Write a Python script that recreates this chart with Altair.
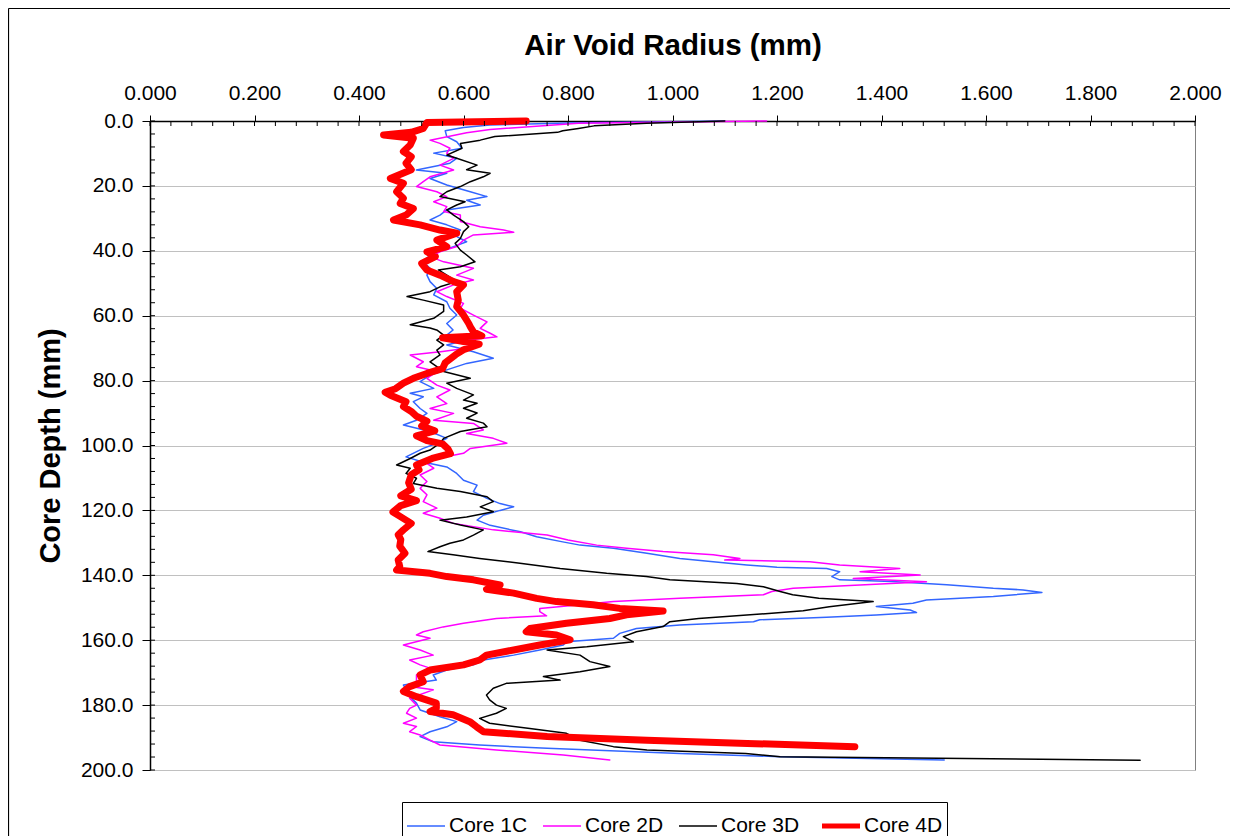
import altair as alt
import pandas as pd

series_names = ["Core 1C", "Core 2D", "Core 3D", "Core 4D"]
series_colors = ["#3366FF", "#FF00FF", "#000000", "#FF0000"]

# (core depth mm, air void radius mm)
core_1c = [
    (0, 1.10), (0.6, 0.80), (1.2, 0.65), (2, 0.60), (3, 0.565), (4.8, 0.568), (6.4, 0.587),
    (8.4, 0.597), (9.9, 0.543), (11.5, 0.587), (13, 0.574), (15.1, 0.51), (16.1, 0.568),
    (17.7, 0.536), (19.7, 0.568), (21.8, 0.613), (23.3, 0.645), (24.4, 0.606), (25.9, 0.632),
    (27.4, 0.568), (29, 0.555), (30.5, 0.536), (32, 0.568), (33.6, 0.594), (35.1, 0.581),
    (37.2, 0.606), (38.7, 0.581), (41.3, 0.536), (43.4, 0.523), (45.4, 0.536), (47.5, 0.53),
    (49.5, 0.536), (51.6, 0.549), (53.6, 0.543), (55.7, 0.568), (57.7, 0.574), (59.8, 0.587),
    (62.4, 0.568), (64.4, 0.58), (66, 0.568), (67.5, 0.606), (69, 0.568), (71.1, 0.619),
    (73.1, 0.657), (74.7, 0.606), (76.7, 0.568), (78.3, 0.536), (80.3, 0.517), (82.4, 0.543),
    (83.9, 0.498), (85, 0.523), (86.5, 0.504), (88.6, 0.517), (90.1, 0.53), (92.2, 0.51),
    (93.7, 0.485), (95.7, 0.536), (97.8, 0.568), (99.3, 0.549), (100.9, 0.523), (103.5, 0.49),
    (105, 0.52), (106.6, 0.568), (108.6, 0.587), (110.7, 0.60), (112.2, 0.626), (114.2, 0.619),
    (116.3, 0.645), (117.9, 0.670), (118.9, 0.696), (120, 0.67), (121.5, 0.638), (123, 0.626),
    (124.6, 0.651), (126.6, 0.709), (128.1, 0.74), (129.7, 0.79), (130.7, 0.823), (131.7, 0.887),
    (133.2, 0.951), (134.8, 1.014), (135.8, 1.078), (136.8, 1.142), (137.5, 1.20), (137.9, 1.295),
    (138.9, 1.32), (140.4, 1.305), (141.4, 1.32), (141.9, 1.42), (142.9, 1.525), (144, 1.614),
    (144.5, 1.671), (145.3, 1.707), (146.5, 1.614), (147.6, 1.486), (148.6, 1.46), (149.6, 1.39),
    (150.7, 1.455), (151.5, 1.467), (152.2, 1.39), (152.9, 1.295), (153.7, 1.167), (154.3, 1.155),
    (155.3, 1.014), (156.4, 0.931), (157.9, 0.899), (159.4, 0.887), (160.5, 0.797), (161.5, 0.791),
    (163, 0.746), (164.6, 0.696), (166.1, 0.638), (167.6, 0.619), (169.2, 0.568), (170.7, 0.542),
    (172.3, 0.548), (173.8, 0.485), (175.3, 0.491), (177.4, 0.497), (179.4, 0.51), (181.5, 0.517),
    (183.6, 0.555), (185.1, 0.587), (186.7, 0.568), (188.2, 0.536), (189.7, 0.517), (191.3, 0.542),
    (192.3, 0.631), (193.3, 0.76), (194.9, 1.014), (195.9, 1.206), (196.9, 1.52),
]

core_2d = [
    (0, 1.18), (0.7, 0.82), (2.6, 0.651), (3.6, 0.606), (5.9, 0.536), (6.9, 0.555), (8.4, 0.574),
    (9.9, 0.568), (11.5, 0.581), (13.6, 0.555), (15.1, 0.581), (17.2, 0.536), (18.7, 0.523),
    (20.2, 0.51), (21.8, 0.549), (23.3, 0.568), (24.9, 0.543), (26.4, 0.568), (27.9, 0.562),
    (29, 0.594), (31, 0.594), (32.6, 0.632), (33.6, 0.677), (34.3, 0.696), (35.1, 0.619),
    (36.7, 0.60), (38.7, 0.587), (40.3, 0.555), (41.8, 0.536), (43.4, 0.562), (45.4, 0.619),
    (47.5, 0.587), (49, 0.619), (50.5, 0.581), (52.6, 0.549), (54.1, 0.568), (56.2, 0.60),
    (57.7, 0.594), (59.8, 0.619), (61.9, 0.645), (63.9, 0.632), (65.4, 0.651), (66.5, 0.664),
    (68, 0.581), (69.6, 0.626), (71, 0.56), (72.1, 0.498), (74.2, 0.523), (75.7, 0.51),
    (77.2, 0.549), (79.3, 0.53), (81.4, 0.549), (82.9, 0.574), (85, 0.549), (87.1, 0.568),
    (88.6, 0.536), (90.1, 0.581), (92.2, 0.543), (93.2, 0.619), (95.2, 0.638), (96.3, 0.606),
    (97.8, 0.657), (99.3, 0.683), (100.9, 0.613), (102.4, 0.60), (104, 0.549), (105.5, 0.53),
    (107, 0.543), (109.1, 0.517), (111.1, 0.53), (113.2, 0.517), (115.2, 0.53), (117.3, 0.523),
    (119.3, 0.549), (120.9, 0.523), (122.4, 0.555), (124, 0.581), (126, 0.657), (127.6, 0.76),
    (129.1, 0.80), (130.7, 0.855), (131.7, 0.912), (132.7, 0.982), (133.7, 1.078), (134.8, 1.129),
    (135.3, 1.10), (135.8, 1.263), (136.8, 1.32), (137.9, 1.435), (138.9, 1.359), (139.9, 1.474),
    (141, 1.346), (142, 1.486), (143, 1.359), (144, 1.231), (145, 1.19), (146, 1.174),
    (147.1, 1.014), (148.1, 0.887), (149.1, 0.823), (150.2, 0.746), (151.2, 0.746), (152.5, 0.759),
    (153.3, 0.663), (154.8, 0.60), (155.9, 0.561), (157.4, 0.523), (158.4, 0.51), (159.4, 0.536),
    (161.5, 0.485), (163, 0.517), (164.6, 0.542), (166.1, 0.497), (167.6, 0.517), (168.6, 0.536),
    (170.7, 0.51), (172.8, 0.51), (174.3, 0.497), (175.3, 0.542), (177.9, 0.497), (180, 0.51),
    (181, 0.497), (182.5, 0.491), (184, 0.51), (185.6, 0.485), (186.6, 0.51), (188.2, 0.497),
    (189.2, 0.517), (190.8, 0.536), (192.3, 0.555), (193.8, 0.663), (195.4, 0.791), (196.9, 0.88),
]

core_3d = [
    (0, 1.10), (0.7, 0.95), (1.5, 0.85), (2.3, 0.82), (3, 0.79), (3.5, 0.78), (4.8, 0.66),
    (5.9, 0.632), (6.9, 0.594), (8.4, 0.597), (10.5, 0.568), (11.5, 0.587), (13.6, 0.626),
    (15, 0.606), (16.1, 0.651), (17.2, 0.638), (18.7, 0.613), (20.2, 0.594), (21.8, 0.568),
    (23.3, 0.555), (24.9, 0.603), (25.9, 0.587), (27.4, 0.568), (29, 0.581), (31, 0.60),
    (32.6, 0.61), (34.1, 0.60), (36.2, 0.594), (37.7, 0.584), (39.8, 0.594), (41.3, 0.606),
    (43.4, 0.622), (44.9, 0.594), (45.9, 0.552), (47.5, 0.568), (49.5, 0.587), (51.1, 0.555),
    (52.6, 0.536), (54.1, 0.492), (55.2, 0.523), (56.7, 0.562), (58.7, 0.562), (60.8, 0.543),
    (62.8, 0.498), (63.8, 0.536), (64.5, 0.55), (66, 0.562), (67.5, 0.549), (69, 0.562),
    (70.6, 0.549), (72.1, 0.555), (74.2, 0.536), (75.7, 0.549), (77.2, 0.562), (79.3, 0.613),
    (80.8, 0.568), (82.4, 0.587), (84.4, 0.619), (86, 0.60), (87, 0.626), (88.5, 0.60),
    (90, 0.626), (91.6, 0.606), (93.1, 0.638), (94.2, 0.645), (95.7, 0.594), (97.8, 0.562),
    (99.3, 0.555), (101.4, 0.536), (102.4, 0.517), (104, 0.498), (106, 0.472), (107, 0.498),
    (108.6, 0.49), (110.1, 0.51), (111.7, 0.504), (113.2, 0.549), (114.2, 0.594), (115.8, 0.645),
    (117.3, 0.657), (118.9, 0.632), (120.4, 0.657), (122, 0.606), (123, 0.555), (124.5, 0.594),
    (126, 0.638), (127.6, 0.619), (129.1, 0.60), (130.1, 0.574), (131.2, 0.555), (132.7, 0.532),
    (133.7, 0.58), (134.8, 0.631), (136.3, 0.708), (137.9, 0.785), (139.4, 0.874), (140.4, 0.95),
    (141.4, 0.995), (142.5, 1.123), (143.5, 1.174), (145, 1.206), (146, 1.23), (147.1, 1.28),
    (148.1, 1.384), (149.7, 1.30), (150.9, 1.25), (151.7, 1.19), (153.3, 1.05), (154.3, 0.995),
    (155.8, 0.982), (157.4, 0.931), (158.9, 0.906), (160.5, 0.925), (162, 0.836), (163, 0.76),
    (164.6, 0.823), (166.6, 0.842), (168.1, 0.88), (169.7, 0.823), (171.2, 0.753), (172.3, 0.785),
    (173.3, 0.682), (174.8, 0.657), (176.9, 0.644), (178.4, 0.65), (180, 0.663), (181, 0.682),
    (182.5, 0.663), (184.1, 0.631), (185.6, 0.65), (187.2, 0.727), (188.7, 0.797), (190.8, 0.823),
    (192.8, 0.887), (193.8, 0.951), (194.9, 1.14), (195.9, 1.206), (197, 1.895),
]

core_4d = [
    (0, 0.72), (0.5, 0.53), (2.3, 0.523), (3.5, 0.50), (4.3, 0.447), (5.3, 0.504), (7.4, 0.498),
    (9.4, 0.485), (11, 0.50), (13, 0.49), (15, 0.50), (17.7, 0.46), (19.2, 0.485), (21.8, 0.472),
    (23.8, 0.485), (25.4, 0.479), (27, 0.504), (29, 0.49), (30.5, 0.466), (32, 0.517),
    (33.6, 0.555), (34.6, 0.587), (36.7, 0.549), (38.7, 0.568), (40.3, 0.53), (41.8, 0.546),
    (43.9, 0.52), (45.9, 0.53), (47.5, 0.555), (49.5, 0.581), (50.5, 0.60), (52.6, 0.587),
    (55.2, 0.59), (57.2, 0.587), (59.8, 0.60), (62.4, 0.61), (63.4, 0.613), (65, 0.619),
    (66.2, 0.635), (66.8, 0.56), (68.8, 0.63), (70.5, 0.60), (72, 0.585), (74.5, 0.565),
    (76.3, 0.56), (77.8, 0.53), (79.3, 0.504), (80.8, 0.485), (82.5, 0.47), (83.6, 0.45),
    (84.5, 0.46), (86.5, 0.49), (88, 0.485), (89.5, 0.50), (91, 0.51), (92.5, 0.53), (94, 0.52),
    (95.5, 0.545), (97, 0.51), (98.5, 0.53), (99.5, 0.56), (101, 0.57), (102.5, 0.575),
    (104, 0.54), (106, 0.51), (107.5, 0.515), (109, 0.50), (111.5, 0.495), (113.5, 0.50),
    (115.5, 0.48), (117, 0.51), (118.5, 0.48), (120.5, 0.465), (122, 0.48), (124, 0.50),
    (126, 0.485), (127.5, 0.475), (129, 0.48), (131, 0.478), (133.2, 0.488), (135.3, 0.475),
    (137.3, 0.478), (138.4, 0.472), (139.4, 0.536), (140.4, 0.568), (141.4, 0.619), (143, 0.67),
    (144.3, 0.644), (145.5, 0.696), (147.1, 0.74), (148.1, 0.778), (149.1, 0.848), (150.2, 0.899),
    (151, 0.982), (152.2, 0.912), (153.3, 0.88), (154.8, 0.797), (156.4, 0.727), (157.4, 0.72),
    (158.4, 0.778), (159.9, 0.804), (161.5, 0.746), (163, 0.696), (164.6, 0.644), (166.1, 0.631),
    (167.6, 0.60), (169.2, 0.536), (170.7, 0.517), (172.8, 0.523), (174.3, 0.497), (175.8, 0.485),
    (177.4, 0.51), (179.4, 0.548), (181, 0.548), (182, 0.536), (183, 0.58), (185.1, 0.612),
    (186.7, 0.625), (188.2, 0.638), (189.7, 0.76), (190.8, 0.951), (191.8, 1.143), (192.8, 1.349),
]

x_ticks = [0.0, 0.2, 0.4, 0.6, 0.8, 1.0, 1.2, 1.4, 1.6, 1.8, 2.0]
y_ticks = [0, 20, 40, 60, 80, 100, 120, 140, 160, 180, 200]
x_minor = [round(0.04 * i, 2) for i in range(51)]
y_minor = [4 * i for i in range(51)]

rows = []
for name, pts in zip(series_names, [core_1c, core_2d, core_3d, core_4d]):
    for d, v in pts:
        rows.append({"series": name, "depth": d, "radius": v})
df = pd.DataFrame(rows)

FONT = "Liberation Sans"
xscale = alt.Scale(domain=[0, 2], nice=False, zero=False)
yscale = alt.Scale(domain=[0, 200], reverse=True, nice=False, zero=False)

x_axis = alt.Axis(
    orient="top", values=x_ticks, format=".3f", title="Air Void Radius (mm)", grid=False,
    domainColor="black", domainWidth=1.5, tickColor="black", tickSize=6, tickWidth=1,
    labelFontSize=21, labelFont=FONT, labelColor="black", labelPadding=16,
    labelBaseline="alphabetic", labelFlush=False,
    titleFont=FONT, titleFontSize=29.5, titleFontWeight="bold", titleColor="black",
    titleY=-66.5, titleBaseline="alphabetic",
)
y_axis = alt.Axis(
    values=y_ticks, format=".1f", title="Core Depth (mm)", grid=True, gridColor="#C0C0C0",
    gridWidth=1, domainColor="black", domainWidth=1.5, tickColor="black", tickSize=8,
    tickWidth=1, labelFontSize=21, labelFont=FONT, labelColor="black", labelPadding=9,
    labelFlush=False, titleFont=FONT, titleFontSize=29, titleFontWeight="bold",
    titleColor="black", titleX=-91, titleBaseline="alphabetic",
)

legend = alt.Legend(
    orient="none", legendX=252, legendY=681, direction="horizontal", columns=4, title=None,
    symbolType="stroke", symbolSize=1444,
    symbolStrokeWidth=alt.ExprRef("(datum.value === 'Core 4D' ? 5 : 1.5)"),
    labelFontSize=21, labelFont=FONT, labelColor="black", labelOffset=3, columnPadding=12,
    padding=4, strokeColor="black", fillColor="white",
)

lines = alt.Chart(df).mark_line(strokeCap="round", strokeJoin="round").encode(
    x=alt.X("radius:Q", scale=xscale, axis=x_axis),
    y=alt.Y("depth:Q", scale=yscale, axis=y_axis),
    color=alt.Color("series:N", scale=alt.Scale(domain=series_names, range=series_colors),
                    legend=legend),
    strokeWidth=alt.condition(alt.datum.series == "Core 4D", alt.value(7), alt.value(1.5)),
    order=alt.Order("depth:Q"),
)

xminor = alt.Chart(pd.DataFrame({"radius": x_minor})).mark_rule(color="black", strokeWidth=1).encode(
    x=alt.X("radius:Q", scale=xscale, axis=x_axis), y=alt.value(0), y2=alt.value(5)
)
yminor = alt.Chart(pd.DataFrame({"depth": y_minor})).mark_rule(color="black", strokeWidth=1).encode(
    y=alt.Y("depth:Q", scale=yscale, axis=y_axis), x=alt.value(0), x2=alt.value(5)
)

frame_df = pd.DataFrame({"k": [0]})
frame_left = alt.Chart(frame_df).mark_rule(color="black", strokeWidth=1.2).encode(
    x=alt.value(-141.5), y=alt.value(-112.5), y2=alt.value(720)
)
frame_top = alt.Chart(frame_df).mark_rule(color="black", strokeWidth=1.2).encode(
    x=alt.value(-141.5), x2=alt.value(1085), y=alt.value(-112.5)
)

chart = alt.layer(lines, xminor, yminor, frame_left, frame_top).properties(
    width=1045, height=649,
    autosize=alt.AutoSizeParams(type="none"),
    padding={"left": 142, "top": 113, "right": 35, "bottom": 66},
    background="white",
).configure_view(stroke="#808080", strokeWidth=1)

chart.save("out.html", embed_options={"renderer": "svg", "actions": False})
